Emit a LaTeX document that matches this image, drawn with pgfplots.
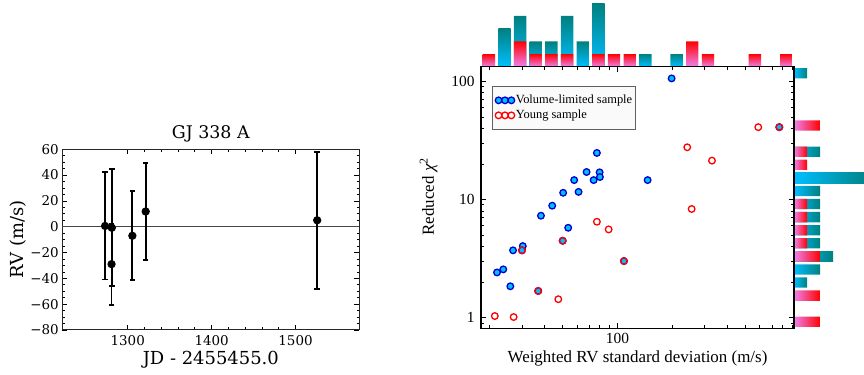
\documentclass[border=0pt]{standalone}
\usepackage{pgfplots}
\pgfplotsset{compat=1.18}
\usepackage{fontspec}
\setmainfont{Liberation Serif}
\newfontfamily\dejavu{DejaVu Serif}
\definecolor{dsky}{HTML}{00BFFF}
\definecolor{tealc}{HTML}{008080}
\definecolor{vio}{HTML}{EE82EE}
\definecolor{mblue}{HTML}{0000CD}
\pgfplotsset{
  tealv/.style={ybar, bar shift=0pt, bar width=0.79, draw=none, bottom color=dsky, top color=tealc},
  redv/.style={ybar, bar shift=0pt, bar width=0.79, draw=none, bottom color=vio, top color=red},
  tealh/.style={xbar, bar shift=0pt, bar width=0.79, draw=none, left color=dsky, right color=tealc},
  redh/.style={xbar, bar shift=0pt, bar width=0.79, draw=none, left color=vio, right color=red},
}
\begin{document}
\begin{tikzpicture}
\path[use as bounding box] (0,0) rectangle (864bp,375bp);
% ---------------- left panel ----------------
\begin{axis}[at={(62.3bp,45bp)}, anchor=south west, scale only axis,
  width=297bp, height=180.7bp,
  xmin=1222, xmax=1576, ymin=-80, ymax=60,
  xtick={1300,1400,1500}, xticklabels={1300,1400,1500}, minor x tick num=4,
  ytick={-80,-60,-40,-20,0,20,40,60}, yticklabels={−80,−60,−40,−20,0,20,40,60}, minor y tick num=3,
  tick align=inside, major tick length=5bp, minor tick length=2.7bp,
  every tick/.style={black, line width=0.8bp},
  axis line style={black!85, line width=1bp},
  ticklabel style={font=\dejavu\fontsize{13.5}{16}\selectfont},
  xticklabel style={yshift=-1.5bp},
  clip=false]
\addplot[gray!55!black, line width=1.5bp] coordinates {(1222,0) (1576,0)};
\addplot[black, line width=1.8bp, only marks, mark=*, mark size=3.2bp,
  error bars/.cd, y dir=both, y explicit,
  error bar style={line width=1.8bp, black},
  error mark options={rotate=90, mark size=2.8bp, line width=1.8bp, black}]
  coordinates {
  (1273,0.6) +- (0,41.5)
  (1280.7,-29) +- (0,31.4)
  (1281,-0.8) +- (0,45.4)
  (1305.5,-7) +- (0,34.5)
  (1321.4,11.8) +- (0,37.7)
  (1525.8,5) +- (0,53)
  };
\end{axis}
\node[font=\dejavu\fontsize{17.5}{20}\selectfont, anchor=base] at (210.8bp,236.7bp) {GJ 338 A};
\node[font=\dejavu\fontsize{18}{20}\selectfont, anchor=base] at (210.8bp,10.6bp) {JD - 2455455.0};
\node[font=\dejavu\fontsize{18}{20}\selectfont, rotate=90, anchor=center] at (18bp,135.6bp) {RV (m/s)};
% ---------------- top histogram ----------------
\begin{axis}[at={(481bp,308.3bp)}, anchor=south west, scale only axis,
  width=313bp, height=66.7bp, xmin=0, xmax=20, ymin=0, ymax=5.26, hide axis]
\addplot[tealv] coordinates {(10.5,1) (12.5,1)};
\addplot[tealv] coordinates {(3.5,2) (4.5,2) (6.5,2)};
\addplot[tealv] coordinates {(1.5,3)};
\addplot[tealv] coordinates {(2.5,4) (5.5,4)};
\addplot[tealv] coordinates {(7.5,5)};
\addplot[redv] coordinates {(0.5,1) (3.5,1) (4.5,1) (5.5,1) (7.5,1) (8.5,1) (9.5,1) (14.5,1) (17.5,1) (19.5,1)};
\addplot[redv] coordinates {(2.5,2) (13.5,2)};
\end{axis}
% ---------------- right histogram ----------------
\begin{axis}[at={(794bp,46.7bp)}, anchor=south west, scale only axis,
  width=70bp, height=261.6bp, xmin=0, xmax=5.385, ymin=0, ymax=20, hide axis, clip=true]
\addplot[tealh] coordinates {(1,19.5) (1,3.5)};
\addplot[tealh] coordinates {(2,13.5) (2,10.5) (2,9.5) (2,8.5) (2,7.5) (2,6.5) (2,4.5)};
\addplot[tealh] coordinates {(3,5.5)};
\addplot[tealh] coordinates {(6,11.5)};
\addplot[redh] coordinates {(1,13.5) (1,12.5) (1,9.5) (1,8.5) (1,7.5) (1,6.5)};
\addplot[redh] coordinates {(2,15.5) (2,5.5) (2,2.5) (2,0.5)};
\end{axis}
% ---------------- main scatter ----------------
\begin{axis}[at={(481bp,46.7bp)}, anchor=south west, scale only axis,
  width=313bp, height=261.6bp,
  xmode=log, ymode=log, xmin=17.9, xmax=924, ymin=0.811, ymax=133.3,
  xtick={100}, xticklabels={100},
  ytick={1,10,100}, yticklabels={1,10,100},
  minor xtick={20,30,40,50,60,70,80,90,200,300,400,500,600,700,800,900},
  minor ytick={0.9,2,3,4,5,6,7,8,9,20,30,40,50,60,70,80,90},
  tick align=inside, major tick length=5.5bp, minor tick length=3bp,
  every tick/.style={black, line width=0.8bp},
  axis line style={black, line width=1.3bp},
  ticklabel style={font=\fontsize{15.5}{18}\selectfont},
  yticklabel style={xshift=-3bp},
  xticklabel style={yshift=-1bp},
  legend style={at={(0.036,0.926)}, anchor=north west, draw=gray!75!black, fill=gray!4,
    line width=1bp, font=\fontsize{12.5}{14}\selectfont, row sep=2.5bp,
    inner xsep=2.5bp, inner ysep=7.5bp,
    nodes={inner sep=1.2bp}},
  legend cell align=left,
  legend image code/.code={\draw[#1] plot coordinates {(0bp,0bp) (6.4bp,0bp) (12.8bp,0bp)};},
  clip=false]
\addplot[only marks, mark=*, mark size=3.3bp, mark options={fill=dsky, draw=mblue, line width=1.3bp}]
  coordinates {
  (197.7,106.1) (77.1,24.8) (67.7,17.1) (79.8,17.0) (80.1,15.5) (57.9,14.6) (74.0,14.6)
  (146.1,14.6) (50.4,11.4) (61.2,11.6) (767.9,41.0) (43.9,8.86) (38.1,7.29) (53.7,5.76)
  (50.1,4.47) (30.3,4.03) (26.8,3.71) (30.0,3.71) (23.7,2.56) (21.9,2.41) (25.9,1.84)
  (36.8,1.68) (108.4,3.01)
  };
\addlegendentry{Volume-limited sample}
\addplot[only marks, mark=o, mark size=3.3bp, mark options={draw=red, line width=1.3bp}]
  coordinates {
  (767.9,41.0) (589,41.0) (240.7,27.7) (328.7,21.35) (254.4,8.31) (77.1,6.48) (89.4,5.58)
  (50.1,4.47) (30.0,3.71) (36.8,1.68) (108.4,3.01) (47.4,1.43) (21.3,1.03) (27.0,1.01)
  };
\addlegendentry{Young sample}
\end{axis}
\node[font=\fontsize{17}{20}\selectfont, anchor=base] at (637.5bp,12.3bp) {Weighted RV standard deviation (m/s)};
\node[font=\fontsize{17}{20}\selectfont, rotate=90, anchor=center] at (428.5bp,178.5bp) {Reduced \textit{χ}\textsuperscript{2}};
\end{tikzpicture}
\end{document}
